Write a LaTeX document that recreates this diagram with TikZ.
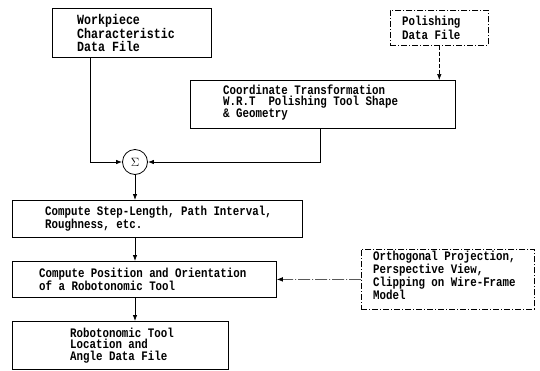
\documentclass[tikz,border=0pt]{standalone}
\usepackage{fontspec}
\newfontfamily\dotfont[FakeStretch=0.83]{Liberation Mono}
\usetikzlibrary{arrows.meta}
\begin{document}
\begin{tikzpicture}[x=1pt,y=-1pt,
  box/.style={draw, line width=0.8pt, anchor=north west, inner sep=0pt},
  dbox/.style={box, dash pattern=on 6pt off 2pt on 1pt off 2pt, line width=0.6pt},
  txt/.style={anchor=west, inner sep=0pt, align=left,
    font=\dotfont\bfseries\fontsize{13}{11.6}\selectfont},
  conn/.style={line width=0.8pt},
  arr/.style={conn, -{Latex[length=6pt,width=4.5pt]}},
  darr/.style={arr, line width=0.6pt, dash pattern=on 4pt off 2pt},
  ddarr/.style={arr, line width=0.6pt, dash pattern=on 12pt off 2pt on 1pt off 2pt}]
\useasboundingbox (0,0) rectangle (540,370);

% boxes
\node[box, minimum width=159pt, minimum height=49pt] (wp) at (52,8) {};
\node[txt, xshift=25pt, font=\dotfont\bfseries\fontsize{14}{12.5}\selectfont] (wpt) at (wp.west) {Workpiece\\Characteristic\\Data File};

\node[dbox, minimum width=98pt, minimum height=35pt] (pd) at (390,10) {};
\node[txt, xshift=12pt] (pdt) at (pd.west) {Polishing\\Data File};

\node[box, minimum width=265pt, minimum height=48pt] (ct) at (190,80) {};
\node[txt, xshift=33pt, yshift=2pt] (ctt) at (ct.west) {Coordinate Transformation\\W.R.T\ \ Polishing Tool Shape\\\& Geometry};

\node[draw, circle, line width=0.8pt, minimum size=25pt, inner sep=0pt,
  font=\large] (sg) at (135,162) {$\Sigma$};

\node[box, minimum width=290pt, minimum height=37pt] (cs) at (12,200) {};
\node[txt, xshift=33pt] (cst) at (cs.west) {Compute Step-Length, Path Interval,\\Roughness, etc.};

\node[box, minimum width=264pt, minimum height=36pt] (cp) at (12,261) {};
\node[txt, xshift=27pt] (cpt) at (cp.west) {Compute Position and Orientation\\of a Robotonomic Tool};

\node[dbox, minimum width=173pt, minimum height=60pt] (or) at (361,249) {};
\node[txt, xshift=12pt, yshift=4pt] (ort) at (or.west) {Orthogonal Projection,\\Perspective View,\\Clipping on Wire-Frame\\Model};

\node[box, minimum width=216pt, minimum height=48pt] (lf) at (12,321) {};
\node[txt, xshift=58pt] (lft) at (lf.west) {Robotonomic Tool\\Location and\\Angle Data File};

% connectors
\draw[arr] ([xshift=38pt]wp.south west) |- (sg.west);
\draw[arr] ([xshift=130pt]ct.south west) |- (sg.east);
\draw[darr] (pd.south) -- (pd.south |- ct.north);
\draw[arr] (sg.south) -- (sg.south |- cs.north);
\draw[arr] (sg.south |- cs.south) -- (sg.south |- cp.north);
\draw[arr] (sg.south |- cp.south) -- (sg.south |- lf.north);
\draw[ddarr] (or.west) -- (cp.east);
\end{tikzpicture}
\end{document}
